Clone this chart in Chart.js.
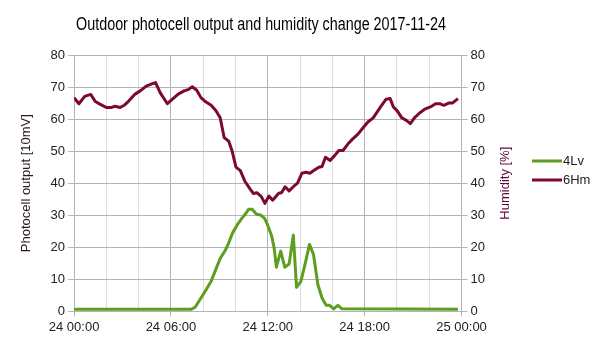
<!DOCTYPE html>
<html>
<head>
<meta charset="utf-8">
<script src="https://cdn.jsdelivr.net/npm/chart.js@4/dist/chart.umd.min.js"></script>
<style>
html,body{margin:0;padding:0;background:#fff;}
#wrap{width:605px;height:340px;}
</style>
</head>
<body>
<div id="wrap"><canvas id="c" width="605" height="340"></canvas></div>
<script>
const chartTitle = 'Outdoor photocell output and humidity change 2017-11-24';
const xTickLabels = ['24 00:00', '24 06:00', '24 12:00', '24 18:00', '25 00:00'];
const seriesNames = ['4Lv', '6Hm'];
const leftAxisTitle = 'Photocell output [10mV]';
const rightAxisTitle = 'Humidity [%]';

// hours since 2017-11-24 00:00
const lvHours = [0, 7.28, 7.5, 7.8, 8.15, 8.49, 8.78, 9.05, 9.36, 9.58, 9.82, 10.16, 10.4, 10.6, 10.82, 11.03, 11.3, 11.55, 11.8, 11.97, 12.24, 12.39, 12.53, 12.8, 13.05, 13.32, 13.58, 13.78, 14.05, 14.33, 14.58, 14.83, 15.1, 15.36, 15.61, 15.83, 16.08, 16.34, 16.6, 23.78];
const lvValues = [0.7, 0.7, 1.3, 3.7, 6.5, 9.4, 13.1, 16.5, 19.0, 21.4, 24.5, 27.4, 29.1, 30.3, 31.9, 31.9, 30.3, 30.1, 29.0, 27.2, 23.5, 19.9, 13.8, 18.8, 13.8, 14.8, 23.8, 7.5, 9.4, 15.2, 20.9, 17.8, 8.4, 4.2, 1.9, 1.9, 0.8, 1.9, 0.8, 0.7];

const hmHours = [0, 0.3, 0.66, 1.03, 1.3, 1.55, 1.75, 2.0, 2.28, 2.53, 2.86, 3.1, 3.4, 3.78, 4.1, 4.47, 4.78, 5.05, 5.34, 5.78, 6.13, 6.45, 6.82, 7.07, 7.32, 7.6, 7.86, 8.15, 8.49, 8.78, 9.05, 9.3, 9.58, 9.78, 10.03, 10.3, 10.58, 10.93, 11.1, 11.34, 11.6, 11.82, 12.07, 12.3, 12.66, 12.86, 13.07, 13.32, 13.58, 13.84, 14.11, 14.36, 14.61, 14.89, 15.16, 15.36, 15.57, 15.86, 16.14, 16.4, 16.66, 16.97, 17.28, 17.6, 17.9, 18.2, 18.53, 18.84, 19.05, 19.33, 19.58, 19.78, 20.03, 20.3, 20.58, 20.83, 21.08, 21.4, 21.76, 22.07, 22.39, 22.65, 22.9, 23.2, 23.43, 23.78];
const hmValues = [66.7, 64.8, 67.1, 67.7, 65.6, 64.8, 64.3, 63.6, 63.6, 64.0, 63.6, 64.3, 65.7, 67.8, 68.8, 70.3, 70.9, 71.4, 68.2, 64.8, 66.4, 67.8, 68.8, 69.2, 70.1, 69.0, 66.7, 65.4, 64.3, 62.7, 60.4, 54.2, 53.1, 50.2, 45.0, 43.9, 40.6, 38.0, 36.8, 37.0, 35.8, 33.7, 36.0, 34.7, 36.8, 37.1, 38.9, 37.6, 38.9, 40.0, 43.1, 43.4, 43.1, 44.1, 45.0, 45.2, 48.1, 47.1, 48.6, 50.2, 50.2, 52.3, 53.9, 55.4, 57.3, 59.1, 60.4, 62.7, 64.3, 66.2, 66.4, 63.8, 62.5, 60.4, 59.6, 58.6, 60.4, 61.9, 63.2, 63.8, 64.8, 64.8, 64.3, 65.0, 65.0, 66.4];

const GREEN = '#5c9e1f';
const RED = '#7d0a2a';
const MAJOR = '#b3b3b3';
const MINOR = '#dddddd';
const FONT = "'Liberation Sans', Arial, sans-serif";

const pts = (xs, ys) => xs.map((x, i) => ({x: x, y: ys[i]}));

const sidePlugin = {
  id: 'sideLegend',
  afterDraw(chart) {
    const ctx = chart.ctx;
    ctx.save();
    // chart title (narrow face emulated by horizontal squeeze)
    ctx.save();
    ctx.translate(261, 25);
    ctx.scale(0.82, 1);
    ctx.font = '17.5px ' + FONT;
    ctx.textAlign = 'center';
    ctx.textBaseline = 'middle';
    ctx.fillStyle = '#000';
    ctx.fillText(chartTitle, 0, 0);
    ctx.restore();
    // legend
    ctx.textAlign = 'left';
    ctx.textBaseline = 'middle';
    ctx.font = '13px ' + FONT;
    chart.data.datasets.forEach((ds, i) => {
      const y = 161 + i * 19;
      ctx.fillStyle = ds.borderColor;
      ctx.fillRect(532, y - 1.5, 30, 3);
      ctx.fillStyle = '#222';
      ctx.fillText(ds.label, 563, y);
    });
    // right axis title, reading bottom-to-top
    const a = chart.chartArea;
    ctx.translate(505, (a.top + a.bottom) / 2);
    ctx.rotate(-Math.PI / 2);
    ctx.textAlign = 'center';
    ctx.font = '13px ' + FONT;
    ctx.fillStyle = '#5a0a3a';
    ctx.fillText(rightAxisTitle, 0, 0);
    ctx.restore();
  }
};

new Chart(document.getElementById('c'), {
  type: 'line',
  data: {
    datasets: [
      {label: seriesNames[0], data: pts(lvHours, lvValues), yAxisID: 'y', borderColor: GREEN, backgroundColor: GREEN, borderWidth: 3, pointRadius: 0, tension: 0, borderJoinStyle: 'round'},
      {label: seriesNames[1], data: pts(hmHours, hmValues), yAxisID: 'y1', borderColor: RED, backgroundColor: RED, borderWidth: 3, pointRadius: 0, tension: 0, borderJoinStyle: 'round'}
    ]
  },
  options: {
    responsive: false,
    animation: false,
    layout: {padding: {left: 19, right: 117, top: 55, bottom: 2}},
    plugins: {
      legend: {display: false},
      tooltip: {enabled: false},
      title: {display: false}
    },
    scales: {
      x: {
        type: 'linear', min: 0, max: 24,
        ticks: {
          stepSize: 2, autoSkip: false, maxRotation: 0, color: '#222',
          font: {family: FONT, size: 13},
          callback: v => (v % 6 === 0 ? xTickLabels[v / 6] : '')
        },
        grid: {color: c => (c.tick && c.tick.value % 6 === 0 ? MAJOR : MINOR), tickLength: 5, tickColor: c => (c.tick && c.tick.value % 6 === 0 ? MAJOR : 'rgba(0,0,0,0)')},
        border: {color: MAJOR}
      },
      y: {
        position: 'left', min: 0, max: 80,
        ticks: {stepSize: 5, color: '#222', font: {family: FONT, size: 13}, callback: v => (v % 10 === 0 ? String(v) : '')},
        grid: {color: c => (c.tick && c.tick.value % 10 === 0 ? MAJOR : MINOR), tickLength: 6, tickColor: c => (c.tick && c.tick.value % 10 === 0 ? MAJOR : 'rgba(0,0,0,0)')},
        border: {color: MAJOR},
        title: {display: true, text: leftAxisTitle, color: '#2a1a1a', font: {family: FONT, size: 13}, padding: {top: 0, bottom: 13}}
      },
      y1: {
        position: 'right', min: 0, max: 80,
        ticks: {stepSize: 5, color: '#222', font: {family: FONT, size: 13}, callback: v => (v % 10 === 0 ? String(v) : '')},
        grid: {drawOnChartArea: false, tickLength: 6, tickColor: c => (c.tick && c.tick.value % 10 === 0 ? MAJOR : 'rgba(0,0,0,0)')},
        border: {color: MAJOR}
      }
    }
  },
  plugins: [sidePlugin]
});
</script>
</body>
</html>
